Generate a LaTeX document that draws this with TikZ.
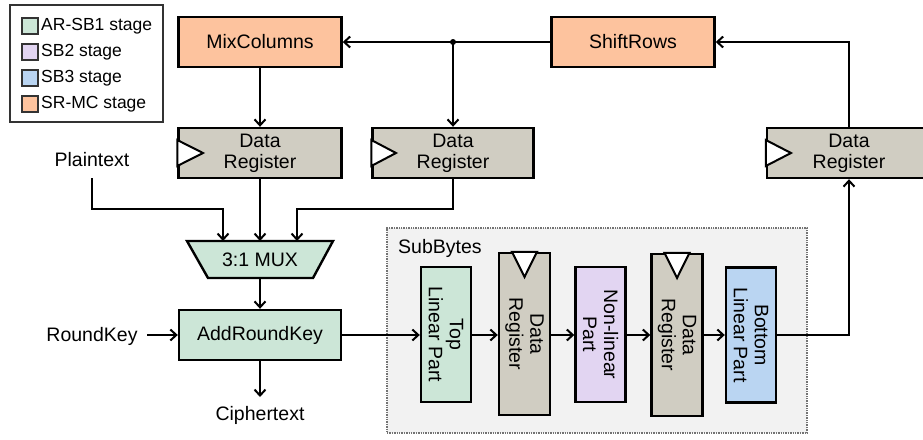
\documentclass[tikz,border=0pt]{standalone}
\usepackage{fontspec}
\setmainfont{Liberation Sans}
\usetikzlibrary{arrows.meta}
\definecolor{cgreen}{HTML}{CCE6D7}
\definecolor{cpurple}{HTML}{E2D5F2}
\definecolor{cblue}{HTML}{BAD5F2}
\definecolor{corange}{HTML}{FDC39E}
\definecolor{cgray}{HTML}{D0CDC2}
\definecolor{cbg}{HTML}{F2F2F2}
\begin{document}
\begin{tikzpicture}[x=1pt,y=-1pt,
  mainfont/.style={font=\fontsize{19.5}{21}\selectfont},
  box/.style={draw=black, line width=2.4pt, inner sep=0pt, mainfont, align=center},
  hbox/.style={box, minimum width=163pt, minimum height=50pt},
  vbox/.style={box, minimum width=50pt, minimum height=135pt},
  vreg/.style={box, fill=cgray, minimum width=51pt, minimum height=162pt},
  vtext/.style={inner sep=0pt, mainfont, align=center, rotate=-90},
  lbl/.style={inner sep=0pt, mainfont},
  clk/.style={draw=black, fill=white, line width=2pt, line join=miter},
  wire/.style={line width=2pt},
  arr/.style={wire, -{Straight Barb[length=6pt,width=11pt]}},
  swatch/.style={draw=black!80, line width=1.2pt, minimum width=16pt, minimum height=16pt, inner sep=0pt},
  legtext/.style={inner sep=0pt, anchor=west, font=\fontsize{17.5}{20}\selectfont},
]
\useasboundingbox (0,0) rectangle (923,439);

% legend
\node[draw=black!80, line width=1.2pt, minimum width=153pt, minimum height=117pt, inner sep=0pt] (legend) at (86.5,63.5) {};
\node[swatch, fill=cgreen]  (sw1) at (30,26) {};
\node[swatch, fill=cpurple] (sw2) at (30,52) {};
\node[swatch, fill=cblue]   (sw3) at (30,78) {};
\node[swatch, fill=corange] (sw4) at (30,104) {};
\node[legtext] (lt1) at (41,26) {AR-SB1 stage};
\node[legtext] (lt2) at (41,52) {SB2 stage};
\node[legtext] (lt3) at (41,78) {SB3 stage};
\node[legtext] (lt4) at (41,104) {SR-MC stage};

% SubBytes background
\node[draw=black!55, densely dotted, line width=1.4pt, fill=cbg, minimum width=420pt, minimum height=205pt, inner sep=0pt] (sb) at (597,330.5) {};
\node[lbl, anchor=west] (sblabel) at (398,248) {SubBytes};

% top row
\node[hbox, fill=corange] (mc) at (260,42) {MixColumns};
\node[hbox, fill=corange] (sr) at (633,42) {ShiftRows};

% registers
\node[hbox, fill=cgray] (dr1) at (260,153) {Data\\Register};
\node[hbox, fill=cgray, minimum width=161pt] (dr2) at (453,153) {Data\\Register};
\node[hbox, fill=cgray, minimum width=164pt] (dr3) at (849,153) {Data\\Register};
\draw[clk] (dr1.west |- 0,140) -- (203,153) -- (dr1.west |- 0,166) -- cycle;
\draw[clk] (dr2.west |- 0,140) -- (396,153) -- (dr2.west |- 0,166) -- cycle;
\draw[clk] (dr3.west |- 0,140) -- (791,153) -- (dr3.west |- 0,166) -- cycle;

% MUX
\draw[box, fill=cgreen] (187,241) -- (333,241) -- (313,278) -- (208,278) -- cycle;
\node[lbl, minimum width=146pt, minimum height=37pt] (mux) at (260,259.5) {3:1 MUX};

% AddRoundKey
\node[box, fill=cgreen, minimum width=162pt, minimum height=50pt] (ark) at (260,335) {AddRoundKey};

% labels
\node[lbl] (pt) at (92,160) {Plaintext};
\node[lbl] (rk) at (92,336) {RoundKey};
\node[lbl] (ct) at (260,415) {Ciphertext};
\coordinate (rkend) at (147,335);
\coordinate (ctend) at (260,397);
\coordinate (ptstart) at (92,178);

% SubBytes blocks
\node[vbox, fill=cgreen]  (tlp) at (446,334.5) {};
\node[vtext] (tlpT) at (tlp.center) {Top\\Linear Part};
\node[vreg] (sra) at (524.5,334) {};
\node[vtext] (sraT) at (sra.center) {Data\\Register};
\node[vbox, fill=cpurple] (nlp) at (600.5,334.5) {};
\node[vtext] (nlpT) at (nlp.center) {Non-linear\\Part};
\node[vreg] (srb) at (677,335) {};
\node[vtext] (srbT) at (srb.center) {Data\\Register};
\node[vbox, fill=cblue]   (blp) at (751,335) {};
\node[vtext] (blpT) at (blp.center) {Bottom\\Linear Part};
\draw[clk] (sra.north -| 512,0) -- (524.5,277) -- (sra.north -| 537,0) -- cycle;
\draw[clk] (srb.north -| 664.5,0) -- (677,278) -- (srb.north -| 689.5,0) -- cycle;

% connectors
\coordinate (jn) at (453,42);
\draw[arr] (sr.west) -- (mc.east);
\fill (jn) circle (3pt);
\draw[arr] (jn) -- (dr2.north -| jn);
\draw[arr] (mc.south) -- (dr1.north);
\draw[arr] (dr3.north) |- (sr.east);
\draw[arr] (blp.east) -| (dr3.south);

\draw[arr] (ptstart) |- (223,209) -- (223,241);
\draw[arr] (dr1.south) -- (260,241);
\draw[arr] (dr2.south) |- (297,209) -- (297,241);
\draw[arr] (mux.south) -- (ark.north);
\draw[arr] (rkend) -- (ark.west);
\draw[arr] (ark.south) -- (ctend);

\draw[arr] (ark.east) -- (tlp.west |- ark.east);
\draw[arr] (tlp.east |- 0,335) -- (sra.west |- 0,335);
\draw[arr] (sra.east |- 0,335) -- (nlp.west |- 0,335);
\draw[arr] (nlp.east |- 0,335) -- (srb.west |- 0,335);
\draw[arr] (srb.east |- 0,335) -- (blp.west |- 0,335);
\end{tikzpicture}
\end{document}
